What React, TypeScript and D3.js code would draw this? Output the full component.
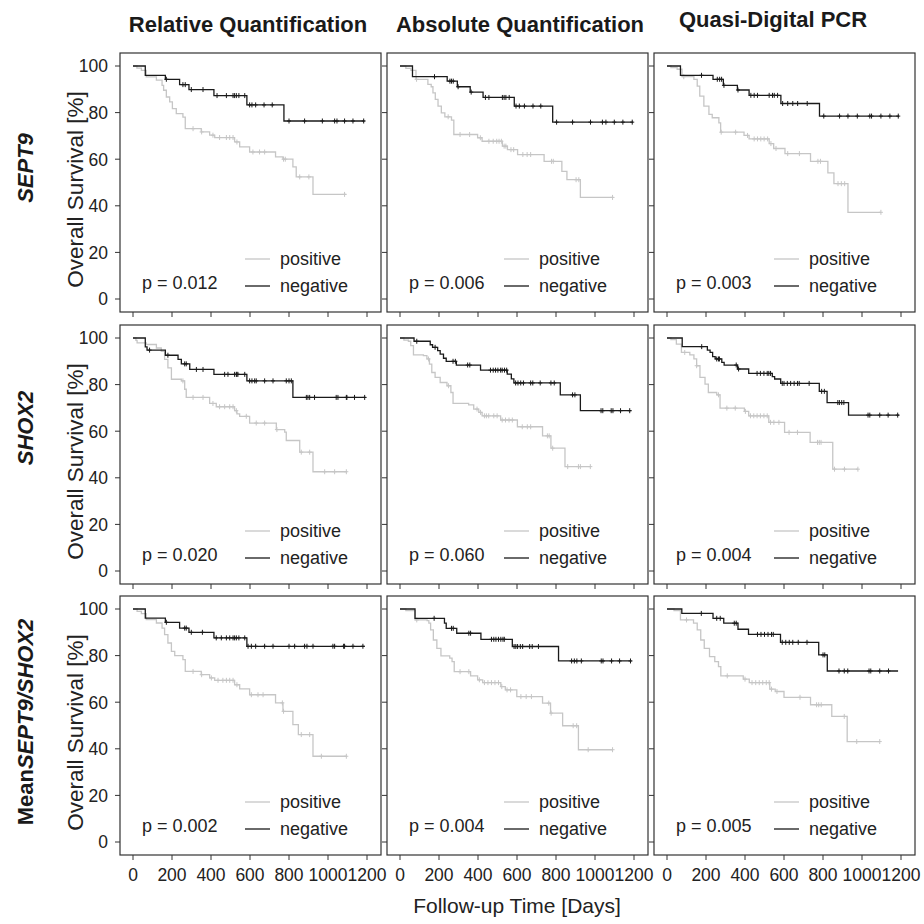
import React from "react";
import * as d3 from "d3";

// column / row labels
const methods = ["Relative Quantification", "Absolute Quantification", "Quasi-Digital PCR"];
const markers = ["SEPT9", "SHOX2", "MeanSEPT9/SHOX2"];
const pValues = [
  ["0.012", "0.006", "0.003"],
  ["0.020", "0.060", "0.004"],
  ["0.002", "0.004", "0.005"],
];
const xTicks = [0, 200, 400, 600, 800, 1000, 1200];
const yTicks = [0, 20, 40, 60, 80, 100];

// Kaplan-Meier steps [day, survival % after step]; last entry = end of follow-up
// censor = days of censored patients
const sept9RqNeg = [[63, 96], [166, 94.3], [239, 92], [287, 89.9], [415, 87.3], [584, 83.3], [774, 76.4], [1188, 76.4]];
const sept9RqNegCens = [171, 256, 268, 299, 359, 431, 479, 513, 521, 530, 543, 573, 598, 610, 629, 672, 714, 800, 880, 971, 1034, 1046, 1085, 1128, 1183];
const sept9RqPos = [[20, 99.1], [43, 98.1], [68, 95.3], [120, 93.9], [149, 91.7], [157, 89.6], [171, 86.7], [188, 84.6], [202, 81.7], [222, 79.6], [256, 78.1], [268, 73.1], [350, 71.7], [393, 70.3], [419, 69.3], [521, 67.4], [547, 65.3], [598, 63.1], [731, 61], [769, 60], [820, 56.7], [837, 52.4], [923, 44.9], [1094, 44.9]];
const sept9RqPosCens = [308, 352, 410, 444, 479, 496, 513, 533, 615, 649, 675, 772, 781, 855, 902, 1085];

const sept9AqNeg = [[64, 95.4], [242, 93.5], [294, 91.1], [360, 88.8], [426, 86.5], [586, 82.8], [783, 75.9], [1195, 75.9]];
const sept9AqNegCens = [177, 256, 264, 273, 298, 365, 438, 456, 525, 534, 543, 560, 595, 612, 638, 682, 722, 803, 885, 977, 1038, 1056, 1099, 1143, 1191];
const sept9AqPos = [[30, 99], [56, 98.1], [82, 94.3], [143, 92.1], [160, 91.1], [169, 88.5], [181, 85.7], [195, 82.8], [212, 79.9], [230, 78.2], [264, 76.8], [276, 70.6], [398, 69.2], [421, 67.7], [525, 65.6], [551, 64.1], [603, 62], [739, 59.1], [830, 54.8], [856, 51.2], [925, 43.6], [1094, 43.6]];
const sept9AqPosCens = [85, 247, 308, 357, 412, 456, 478, 496, 508, 520, 534, 543, 569, 583, 630, 652, 670, 777, 786, 903, 917, 1090];

const sept9QdNeg = [[69, 96], [236, 94.3], [289, 91.7], [361, 89.7], [421, 87.4], [584, 83.9], [782, 78.5], [1190, 78.5]];
const sept9QdNegCens = [177, 258, 270, 280, 292, 364, 430, 447, 464, 524, 541, 550, 567, 593, 619, 645, 670, 719, 804, 885, 928, 976, 1040, 1049, 1097, 1143, 1186];
const sept9QdPos = [[20, 99.3], [52, 98.6], [77, 95.4], [138, 94.3], [155, 91.4], [168, 87.1], [189, 82.8], [215, 79.2], [232, 77.8], [266, 75.6], [275, 71.6], [395, 70.2], [421, 68.7], [524, 66.7], [547, 64.6], [605, 62.4], [736, 59.1], [825, 54.1], [856, 49.5], [928, 37.2], [1097, 37.2]];
const sept9QdPosCens = [86, 278, 352, 413, 447, 464, 481, 498, 516, 533, 559, 619, 679, 774, 787, 877, 894, 911, 1097];

const shox2RqNeg = [[63, 96.2], [72, 94.8], [166, 92.6], [231, 90.8], [248, 88.9], [291, 86.5], [415, 84.4], [584, 81.6], [820, 74.5], [1193, 74.5]];
const shox2RqNegCens = [85, 179, 265, 273, 325, 359, 470, 487, 521, 530, 533, 538, 573, 598, 610, 624, 632, 675, 718, 786, 800, 812, 889, 897, 906, 931, 1042, 1051, 1094, 1097, 1136, 1188];
const shox2RqPos = [[15, 99], [21, 97.9], [68, 97.2], [120, 95.7], [145, 94.3], [162, 90.8], [179, 87.2], [197, 82.3], [248, 81.6], [265, 78], [273, 74.5], [393, 71.9], [427, 70.5], [521, 68.8], [533, 67.4], [547, 66.4], [598, 63.5], [735, 60.7], [778, 59.6], [786, 56], [855, 51], [923, 42.6], [1097, 42.6]];
const shox2RqPosCens = [256, 308, 359, 410, 444, 470, 496, 513, 530, 581, 632, 675, 738, 863, 906, 983, 1034, 1094];

const shox2AqNeg = [[72, 98.6], [155, 97.1], [167, 96], [193, 94.6], [206, 93.1], [223, 91.3], [237, 90], [289, 88.4], [413, 86.2], [550, 84.5], [571, 82.5], [584, 80.7], [822, 75.6], [925, 68.8], [1186, 68.8]];
const shox2AqNegCens = [86, 180, 272, 284, 347, 358, 464, 478, 490, 502, 516, 524, 536, 547, 593, 605, 619, 633, 670, 681, 719, 774, 791, 885, 897, 1031, 1040, 1083, 1092, 1131, 1178];
const shox2AqPos = [[20, 99.1], [43, 98.6], [55, 96.7], [69, 92.8], [120, 92.4], [138, 91], [151, 88.8], [163, 85.2], [180, 83.1], [206, 80.9], [241, 79.5], [261, 76.6], [272, 71.9], [352, 71.3], [378, 69.5], [404, 68.1], [421, 66.6], [516, 64.8], [602, 61.9], [731, 58], [774, 52.7], [846, 44.8], [976, 44.8]];
const shox2AqPosCens = [146, 249, 395, 413, 433, 443, 455, 481, 498, 524, 541, 559, 576, 627, 653, 670, 756, 765, 783, 860, 915, 925, 976];

const shox2QdNeg = [[78, 96.3], [207, 94.8], [221, 93.8], [234, 92], [247, 91], [281, 89.5], [293, 88.4], [362, 86.7], [419, 84.8], [540, 83.4], [552, 82.4], [583, 80.5], [781, 77.1], [821, 72.3], [931, 66.9], [1190, 66.9]];
const shox2QdNegCens = [178, 255, 264, 269, 355, 367, 462, 479, 497, 514, 522, 531, 591, 600, 617, 634, 652, 669, 678, 729, 793, 807, 876, 884, 896, 907, 1031, 1040, 1091, 1134, 1183];
const shox2QdPos = [[20, 99.3], [48, 97.4], [74, 93.8], [117, 92.8], [138, 91], [152, 88.1], [169, 83.1], [195, 80.2], [212, 76.6], [255, 75.6], [272, 69.9], [397, 68.5], [419, 66.6], [522, 63.8], [603, 59.5], [734, 55.2], [850, 43.7], [979, 43.7]];
const shox2QdPosCens = [91, 152, 264, 307, 350, 402, 428, 445, 462, 479, 497, 514, 531, 548, 574, 626, 669, 772, 781, 790, 859, 910, 979];

const meanRqNeg = [[63, 96.1], [166, 94.3], [239, 91.8], [287, 90], [415, 87.6], [584, 84], [1188, 84]];
const meanRqNegCens = [171, 265, 273, 299, 356, 427, 453, 479, 496, 513, 521, 530, 543, 573, 590, 607, 629, 675, 718, 800, 829, 880, 892, 923, 1025, 1034, 1080, 1085, 1128, 1179];
const meanRqPos = [[21, 99], [43, 98], [68, 95.4], [120, 94], [149, 91.8], [162, 89], [179, 85.4], [197, 81.8], [214, 80], [256, 78.3], [268, 73.2], [350, 71.8], [393, 70.4], [419, 69.4], [521, 67.5], [547, 65.7], [598, 63.2], [731, 59.7], [769, 56.1], [820, 50.4], [848, 46.1], [923, 36.8], [1094, 36.8]];
const meanRqPosCens = [308, 352, 402, 436, 461, 479, 496, 513, 533, 607, 641, 667, 766, 772, 863, 906, 966, 1094];

const meanAqNeg = [[77, 96], [228, 93.9], [237, 91.7], [291, 89.6], [415, 87], [576, 83.9], [813, 77.7], [1188, 77.7]];
const meanAqNegCens = [175, 264, 273, 353, 362, 469, 481, 492, 505, 517, 528, 535, 585, 594, 603, 617, 629, 665, 678, 710, 880, 894, 907, 930, 1032, 1041, 1085, 1126, 1182];
const meanAqPos = [[30, 99.3], [77, 95.3], [139, 95], [148, 93.9], [157, 91], [171, 86.7], [189, 83.1], [210, 79.9], [255, 78.9], [267, 77.4], [278, 73.1], [362, 71.3], [398, 69.6], [424, 68.4], [517, 66.7], [540, 65.3], [599, 62.4], [731, 59.6], [772, 55.3], [834, 49.9], [915, 39.6], [1090, 39.6]];
const meanAqPosCens = [86, 308, 353, 407, 433, 451, 469, 487, 505, 522, 549, 567, 620, 647, 674, 763, 775, 888, 906, 965, 1090];

const meanQdNeg = [[76, 98.1], [236, 96], [291, 93.9], [364, 91.3], [418, 89.1], [582, 85.7], [778, 80.3], [822, 73.4], [1185, 73.4]];
const meanQdNegCens = [176, 255, 273, 345, 355, 464, 482, 500, 518, 536, 545, 591, 609, 627, 645, 673, 718, 800, 809, 882, 909, 927, 1036, 1045, 1091, 1136];
const meanQdPos = [[36, 99.3], [69, 95.3], [136, 93.9], [155, 91], [173, 86.7], [191, 83.1], [218, 79.6], [245, 77.4], [264, 75.3], [276, 71.3], [391, 69.9], [422, 68.4], [527, 65.6], [555, 64.6], [600, 62.1], [736, 58.9], [845, 53.9], [924, 43.1], [1091, 43.1]];
const meanQdPosCens = [100, 309, 400, 436, 455, 473, 491, 509, 524, 536, 564, 682, 767, 778, 791, 909, 973, 1091];

const curves = [
  [[sept9RqPos, sept9RqPosCens, sept9RqNeg, sept9RqNegCens], [sept9AqPos, sept9AqPosCens, sept9AqNeg, sept9AqNegCens], [sept9QdPos, sept9QdPosCens, sept9QdNeg, sept9QdNegCens]],
  [[shox2RqPos, shox2RqPosCens, shox2RqNeg, shox2RqNegCens], [shox2AqPos, shox2AqPosCens, shox2AqNeg, shox2AqNegCens], [shox2QdPos, shox2QdPosCens, shox2QdNeg, shox2QdNegCens]],
  [[meanRqPos, meanRqPosCens, meanRqNeg, meanRqNegCens], [meanAqPos, meanAqPosCens, meanAqNeg, meanAqNegCens], [meanQdPos, meanQdPosCens, meanQdNeg, meanQdNegCens]],
];

const GREY = "#c6c6c6";
const BLACK = "#1a1a1a";
const FONT = "'Liberation Sans', Arial, Helvetica, sans-serif";

const colLeft = [120, 387, 654];
const rowTop = [53, 325, 596];
const panelW = 261;
const panelH = 259;
const legendX = [125, 117, 120];
const rowLabelY = [168, 428, 722];

function survAt(steps: number[][], t: number) {
  let s = 100;
  for (const [d, v] of steps) {
    if (d <= t) s = v;
    else break;
  }
  return s;
}

function Panel({ r, c }: { r: number; c: number }) {
  const left = colLeft[c];
  const top = rowTop[r];
  const x = d3.scaleLinear().domain([0, 1200]).range([left + 13, left + 247]);
  const y = d3.scaleLinear().domain([0, 100]).range([top + 246, top + 13]);
  const [pos, posC, neg, negC] = curves[r][c] as any;
  const km = d3
    .line<number[]>()
    .x((d) => x(d[0]))
    .y((d) => y(d[1]))
    .curve(d3.curveStepAfter);

  const drawCurve = (steps: number[][], cens: number[], color: string, key: string) => (
    <g key={key}>
      <path d={km([[0, 100], ...steps]) || ""} fill="none" stroke={color} strokeWidth={1.3} />
      {cens.map((t, i) => {
        const cx = x(t);
        const cy = y(survAt(steps, t));
        return (
          <path
            key={i}
            d={`M${cx - 2},${cy}H${cx + 2}M${cx},${cy - 2.5}V${cy + 2.5}`}
            stroke={color}
            strokeWidth={1}
          />
        );
      })}
    </g>
  );

  const bottom = top + panelH;
  return (
    <g>
      <rect x={left} y={top} width={panelW} height={panelH} fill="none" stroke="#333" strokeWidth={1.2} />
      {yTicks.map((t) => (
        <line key={"y" + t} x1={left - 5} x2={left} y1={y(t)} y2={y(t)} stroke="#333" />
      ))}
      {xTicks.map((t) => (
        <line key={"x" + t} x1={x(t)} x2={x(t)} y1={bottom} y2={bottom + 5} stroke="#333" />
      ))}
      {c === 0 &&
        yTicks.map((t) => (
          <text key={"yl" + t} x={left - 12} y={y(t)} dy="0.36em" textAnchor="end" fontSize={17.5} fill="#222">
            {t}
          </text>
        ))}
      {r === 2 &&
        xTicks.map((t) => (
          <text key={"xl" + t} x={x(t)} y={bottom + 26} textAnchor="middle" fontSize={17.5} fill="#222">
            {t}
          </text>
        ))}
      {drawCurve(pos, posC, GREY, "pos")}
      {drawCurve(neg, negC, BLACK, "neg")}
      <text x={left + 22} y={top + 236} fontSize={18} fill="#222">
        p = {pValues[r][c]}
      </text>
      <line x1={left + legendX[c]} x2={left + legendX[c] + 25} y1={top + 206} y2={top + 206} stroke={GREY} strokeWidth={1.3} />
      <line x1={left + legendX[c]} x2={left + legendX[c] + 25} y1={top + 233} y2={top + 233} stroke={BLACK} strokeWidth={1.3} />
      <text x={left + legendX[c] + 35} y={top + 212} fontSize={18} fill="#222">positive</text>
      <text x={left + legendX[c] + 35} y={top + 239} fontSize={18} fill="#222">negative</text>
      {c === 0 && (
        <text
          transform={`translate(83,${top + panelH / 2 + 7}) rotate(-90)`}
          textAnchor="middle"
          fontSize={22.5}
          fill="#222"
        >
          Overall Survival [%]
        </text>
      )}
    </g>
  );
}

export default function App() {
  return (
    <svg
      width={924}
      height={924}
      style={{ position: "absolute", left: 0, top: 0, background: "#fff" }}
      fontFamily={FONT}
    >
      <rect width={924} height={924} fill="#fff" />
      {methods.map((m, i) => (
        <text
          key={m}
          x={[248, 520, 773][i]}
          y={[32, 32, 27][i]}
          textAnchor="middle"
          fontWeight="bold"
          fontSize={22}
          fill="#1a1a1a"
        >
          {m}
        </text>
      ))}
      {markers.map((m, r) => (
        <text
          key={m}
          transform={`translate(33,${rowLabelY[r]}) rotate(-90)`}
          textAnchor="middle"
          fontWeight="bold"
          fontSize={22}
          fill="#1a1a1a"
        >
          {m.startsWith("Mean") ? (
            <>
              <tspan>Mean</tspan>
              <tspan fontStyle="italic">{m.slice(4)}</tspan>
            </>
          ) : (
            <tspan fontStyle="italic">{m}</tspan>
          )}
        </text>
      ))}
      {[0, 1, 2].map((r) => [0, 1, 2].map((c) => <Panel key={`${r}-${c}`} r={r} c={c} />))}
      <text x={517} y={913} textAnchor="middle" fontSize={21} fill="#222">
        Follow-up Time [Days]
      </text>
    </svg>
  );
}
